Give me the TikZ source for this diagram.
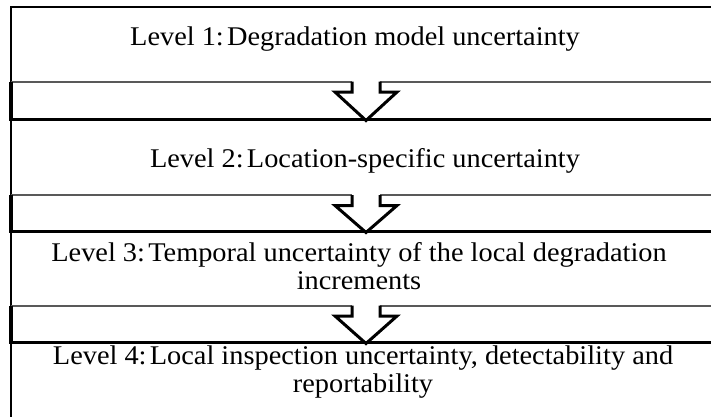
\documentclass[tikz,border=0pt]{standalone}
\usepackage{fontspec}
\setmainfont{Liberation Serif}[FakeStretch=1.05]
\begin{document}
\begin{tikzpicture}[x=1pt,y=-1pt,
  leveltext/.style={inner sep=0pt, align=center, anchor=base,
    font=\fontsize{27}{28}\selectfont},
  frameline/.style={line width=1.2pt, black},
  bandtop/.style={line width=2pt, black!65},
  bandedge/.style={line width=4pt, black},
  bandbottom/.style={line width=3pt, black},
  arrowline/.style={line width=3pt, black, line join=miter}]
\useasboundingbox (0,0) rectangle (711,416);
\clip (0,0) rectangle (711,416);

% outer frame (open to the right and below)
\draw[frameline] (11,420) -- (11,7) -- (720,7);

% a band with a hollow arrow notched into its upper edge
% #1 = top, #2 = bottom, #3 = depth of notch below top
\newcommand\lvlband[3]{%
  \coordinate (bl) at (10.5,#2);
  \coordinate (tl) at (10.5,#1);
  \coordinate (nl) at (352,#1);
  \coordinate (nr) at (380,#1);
  \coordinate (tip) at (366,#2+1.5);
  \draw[bandtop] (tl) -- (nl);
  \draw[bandtop] (nr) -- (720,#1);
  \draw[bandedge] (bl) -- (tl);
  \draw[bandbottom] (9,#2) -- (720,#2);
  \draw[arrowline] (nl) -- (352,#1+#3) -- (335,#1+#3) -- (tip)
    -- (397,#1+#3) -- (380,#1+#3) -- (nr);
}
\lvlband{81.5}{119}{10.5}
\lvlband{195}{231}{10.5}
\lvlband{305.5}{342}{10.5}

% the base anchor of a two-line node sits on its last line
\node[leveltext] (t1) at (355,45) {Level 1:\hspace{0.12em}Degradation model uncertainty};
\node[leveltext] (t2) at (365,167) {Level 2:\hspace{0.12em}Location-specific uncertainty};
\node[leveltext] (t3) at (359,289) {Level 3:\hspace{0.12em}Temporal uncertainty of the local degradation\\increments};
\node[leveltext] (t4) at (363,392) {Level 4:\hspace{0.12em}Local inspection uncertainty, detectability and\\reportability};
\end{tikzpicture}
\end{document}
